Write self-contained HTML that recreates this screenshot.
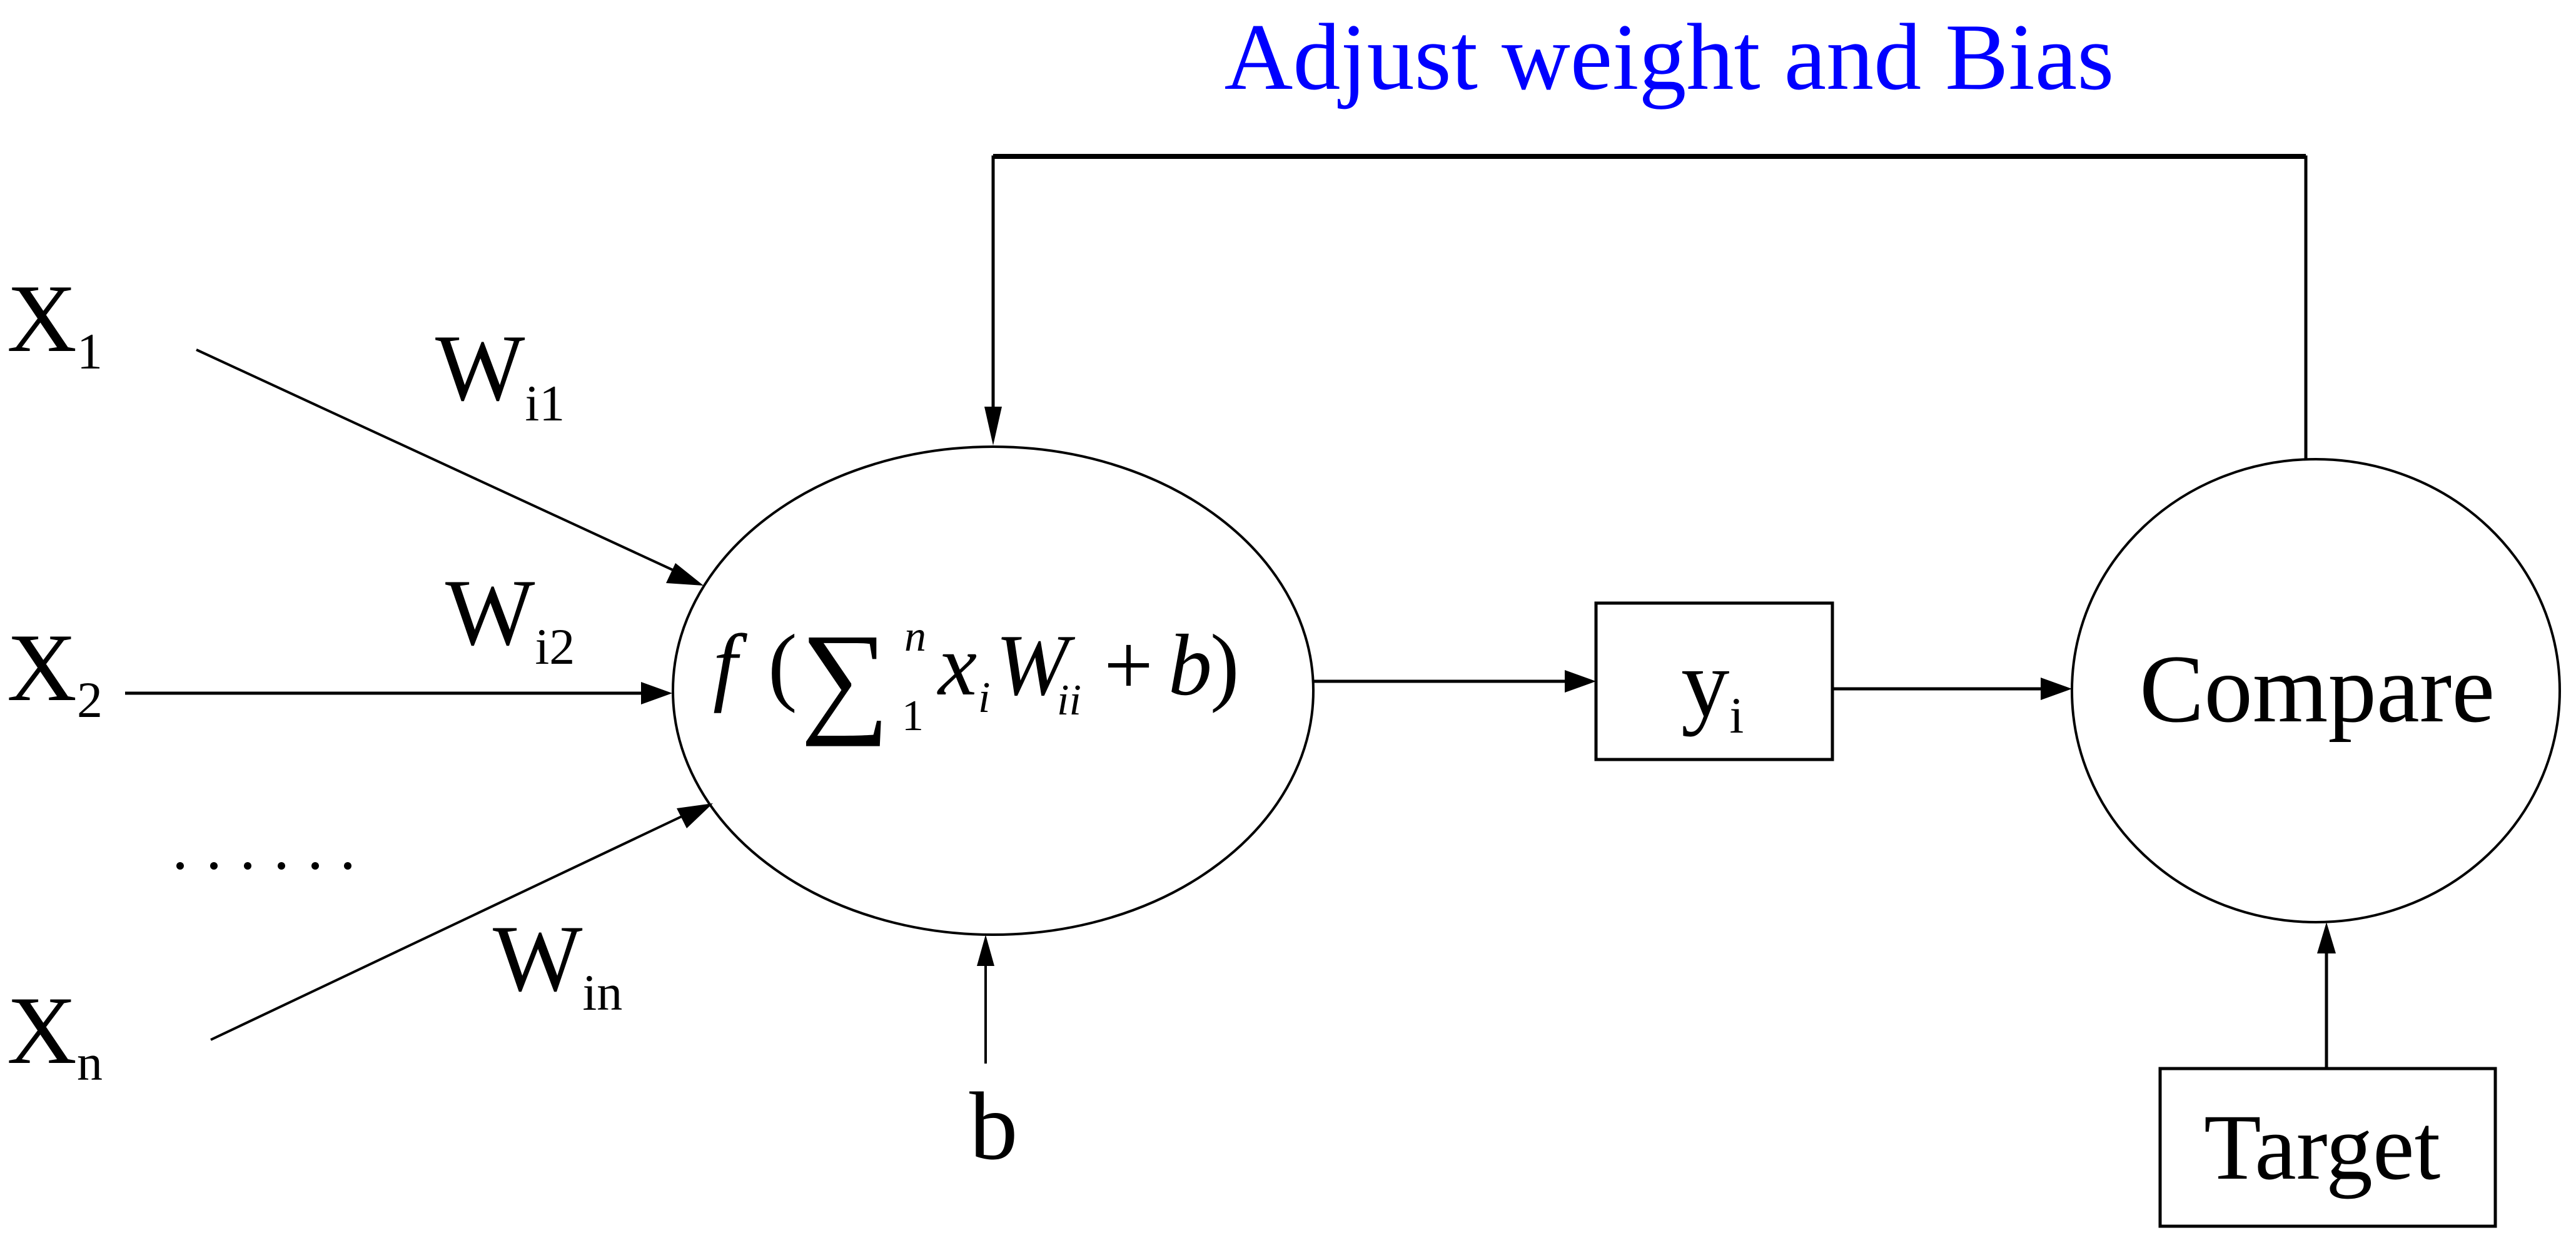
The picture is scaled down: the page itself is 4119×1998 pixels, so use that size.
<!DOCTYPE html>
<html><head><meta charset="utf-8"><style>
html,body{margin:0;padding:0;background:#fff;}
svg{display:block;}
text{font-family:"Liberation Serif","Times New Roman",serif;fill:#000;}
</style></head><body>
<svg width="4119" height="1998" viewBox="0 0 4119 1998" xmlns="http://www.w3.org/2000/svg" font-family="Liberation Serif, serif">
<g stroke="#000" fill="none">
<polyline points="3687,734 3687,251 1588,251 1588,650" stroke-width="5"/>
<path d="M1588,250 L3687,250" stroke-width="8"/>
<polygon points="1574,650 1602,650 1588,712" fill="#000" stroke="none"/>
<ellipse cx="1588" cy="1104" rx="512" ry="390" stroke-width="4"/>
<ellipse cx="3703" cy="1104" rx="390" ry="370" stroke-width="4"/>
<line x1="314" y1="559" x2="1080" y2="913" stroke-width="4"/>
<polygon points="1125,936 1065,932 1080,900" fill="#000" stroke="none"/>
<line x1="200" y1="1108" x2="1030" y2="1108" stroke-width="5"/>
<polygon points="1075,1108 1025,1090 1025,1126" fill="#000" stroke="none"/>
<line x1="337" y1="1662" x2="1090" y2="1305" stroke-width="4"/>
<polygon points="1140,1284 1098,1324 1082,1292" fill="#000" stroke="none"/>
<line x1="1576" y1="1700" x2="1576" y2="1540" stroke-width="4"/>
<polygon points="1576,1494 1562,1544 1590,1544" fill="#000" stroke="none"/>
<line x1="2101" y1="1089" x2="2510" y2="1089" stroke-width="5"/>
<polygon points="2552,1089 2502,1071 2502,1107" fill="#000" stroke="none"/>
<rect x="2552" y="964" width="378" height="250" stroke-width="5"/>
<line x1="2930" y1="1101" x2="3265" y2="1101" stroke-width="5"/>
<polygon points="3313,1101 3263,1083 3263,1119" fill="#000" stroke="none"/>
<rect x="3454" y="1708" width="536" height="252" stroke-width="5"/>
<line x1="3720" y1="1708" x2="3720" y2="1520" stroke-width="5"/>
<polygon points="3720,1474 3705,1524 3735,1524" fill="#000" stroke="none"/>
</g>
<g fill="#000">
<circle cx="288" cy="1384" r="6"/><circle cx="342" cy="1384" r="6"/><circle cx="396" cy="1384" r="6"/>
<circle cx="450" cy="1384" r="6"/><circle cx="504" cy="1384" r="6"/><circle cx="556" cy="1384" r="6"/>
</g>
<text x="2669" y="142" font-size="152" text-anchor="middle" style="fill:#0000ff">Adjust weight and Bias</text>
<text x="11" y="561" font-size="155">X<tspan font-size="82" dy="28">1</tspan></text>
<text x="11" y="1119" font-size="155">X<tspan font-size="82" dy="27">2</tspan></text>
<text x="11" y="1699" font-size="155">X<tspan font-size="82" dy="27">n</tspan></text>
<text x="696" y="639" font-size="152">W<tspan font-size="82" dy="33">i1</tspan></text>
<text x="712" y="1030" font-size="152">W<tspan font-size="82" dy="31">i2</tspan></text>
<text x="788" y="1583" font-size="152">W<tspan font-size="82" dy="31">in</tspan></text>
<text x="1550" y="1852" font-size="155">b</text>
<text x="1140" y="1110" font-size="140" font-style="italic">f</text>
<text x="1228" y="1110" font-size="140">(</text>
<text x="1280" y="1150" font-size="200">∑</text>
<text x="1442" y="1167" font-size="70">1</text>
<text x="1446" y="1040" font-size="70" font-style="italic">n</text>
<text x="1500" y="1110" font-size="140" font-style="italic">x</text>
<text x="1564" y="1138" font-size="70" font-style="italic">i</text>
<text x="1592" y="1110" font-size="140" font-style="italic">W</text>
<text x="1690" y="1142" font-size="70" font-style="italic">ii</text>
<text x="1765" y="1110" font-size="140">+</text>
<text x="1868" y="1110" font-size="140" font-style="italic">b</text>
<text x="1935" y="1110" font-size="140">)</text>
<text x="2688" y="1144" font-size="155">y<tspan font-size="82" dy="27">i</tspan></text>
<text x="3421" y="1153" font-size="155">Compare</text>
<text x="3524" y="1884" font-size="150">Target</text>
</svg>
</body></html>
